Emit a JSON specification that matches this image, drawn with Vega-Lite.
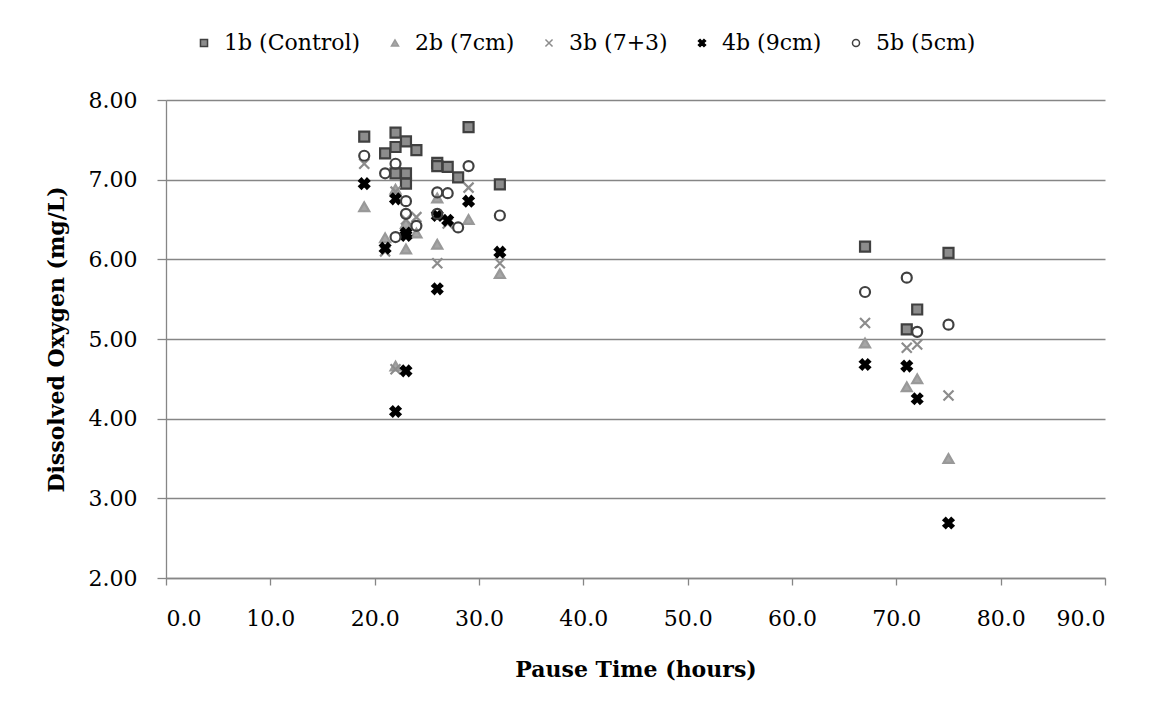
{
  "$schema": "https://vega.github.io/schema/vega-lite/v6.json",
  "width": 939,
  "height": 478,
  "autosize": "none",
  "padding": {"left": 166, "top": 100, "right": 49, "bottom": 135},
  "background": "#ffffff",
  "config": {
    "view": {"stroke": null},
    "font": "DejaVu Serif",
    "axis": {
      "labelFont": "DejaVu Serif",
      "labelFontSize": 22,
      "labelColor": "#000000",
      "titleFont": "DejaVu Serif",
      "titleFontSize": 22,
      "titleFontWeight": "bold",
      "titleColor": "#000000",
      "domainColor": "#868686",
      "tickColor": "#868686",
      "gridColor": "#868686",
      "domainWidth": 1.3,
      "tickWidth": 1.3,
      "gridWidth": 1.3
    },
    "legend": {
      "labelFont": "DejaVu Serif",
      "labelFontSize": 22,
      "labelColor": "#000000"
    }
  },
  "data": {
    "values": [
      {"series": "1b (Control)", "t": 19, "do": 7.54},
      {"series": "1b (Control)", "t": 21, "do": 7.33},
      {"series": "1b (Control)", "t": 22, "do": 7.59},
      {"series": "1b (Control)", "t": 22, "do": 7.41},
      {"series": "1b (Control)", "t": 22, "do": 7.08},
      {"series": "1b (Control)", "t": 23, "do": 7.48},
      {"series": "1b (Control)", "t": 23, "do": 7.08},
      {"series": "1b (Control)", "t": 23, "do": 6.95},
      {"series": "1b (Control)", "t": 24, "do": 7.37},
      {"series": "1b (Control)", "t": 26, "do": 7.21},
      {"series": "1b (Control)", "t": 26, "do": 7.17},
      {"series": "1b (Control)", "t": 27, "do": 7.16},
      {"series": "1b (Control)", "t": 28, "do": 7.03},
      {"series": "1b (Control)", "t": 29, "do": 7.66},
      {"series": "1b (Control)", "t": 32, "do": 6.94},
      {"series": "1b (Control)", "t": 67, "do": 6.16},
      {"series": "1b (Control)", "t": 71, "do": 5.12},
      {"series": "1b (Control)", "t": 72, "do": 5.37},
      {"series": "1b (Control)", "t": 75, "do": 6.08},

      {"series": "2b (7cm)", "t": 19, "do": 6.66},
      {"series": "2b (7cm)", "t": 21, "do": 6.27},
      {"series": "2b (7cm)", "t": 22, "do": 6.88},
      {"series": "2b (7cm)", "t": 22, "do": 4.66},
      {"series": "2b (7cm)", "t": 23, "do": 6.13},
      {"series": "2b (7cm)", "t": 23, "do": 6.45},
      {"series": "2b (7cm)", "t": 24, "do": 6.33},
      {"series": "2b (7cm)", "t": 26, "do": 6.77},
      {"series": "2b (7cm)", "t": 26, "do": 6.19},
      {"series": "2b (7cm)", "t": 29, "do": 6.50},
      {"series": "2b (7cm)", "t": 32, "do": 5.82},
      {"series": "2b (7cm)", "t": 67, "do": 4.95},
      {"series": "2b (7cm)", "t": 71, "do": 4.40},
      {"series": "2b (7cm)", "t": 72, "do": 4.50},
      {"series": "2b (7cm)", "t": 75, "do": 3.50},

      {"series": "3b (7+3)", "t": 19, "do": 7.20},
      {"series": "3b (7+3)", "t": 21, "do": 6.10},
      {"series": "3b (7+3)", "t": 22, "do": 6.85},
      {"series": "3b (7+3)", "t": 22, "do": 4.62},
      {"series": "3b (7+3)", "t": 23, "do": 6.50},
      {"series": "3b (7+3)", "t": 24, "do": 6.53},
      {"series": "3b (7+3)", "t": 26, "do": 5.95},
      {"series": "3b (7+3)", "t": 27, "do": 6.45},
      {"series": "3b (7+3)", "t": 29, "do": 6.90},
      {"series": "3b (7+3)", "t": 32, "do": 5.95},
      {"series": "3b (7+3)", "t": 67, "do": 5.20},
      {"series": "3b (7+3)", "t": 71, "do": 4.89},
      {"series": "3b (7+3)", "t": 72, "do": 4.93},
      {"series": "3b (7+3)", "t": 75, "do": 4.29},

      {"series": "4b (9cm)", "t": 19, "do": 6.95},
      {"series": "4b (9cm)", "t": 21, "do": 6.14},
      {"series": "4b (9cm)", "t": 22, "do": 6.76},
      {"series": "4b (9cm)", "t": 22, "do": 4.09},
      {"series": "4b (9cm)", "t": 23, "do": 6.30},
      {"series": "4b (9cm)", "t": 23, "do": 6.33},
      {"series": "4b (9cm)", "t": 23, "do": 4.60},
      {"series": "4b (9cm)", "t": 26, "do": 6.55},
      {"series": "4b (9cm)", "t": 26, "do": 5.63},
      {"series": "4b (9cm)", "t": 27, "do": 6.49},
      {"series": "4b (9cm)", "t": 29, "do": 6.73},
      {"series": "4b (9cm)", "t": 32, "do": 6.09},
      {"series": "4b (9cm)", "t": 67, "do": 4.68},
      {"series": "4b (9cm)", "t": 71, "do": 4.66},
      {"series": "4b (9cm)", "t": 72, "do": 4.25},
      {"series": "4b (9cm)", "t": 75, "do": 2.69},

      {"series": "5b (5cm)", "t": 19, "do": 7.30},
      {"series": "5b (5cm)", "t": 21, "do": 7.08},
      {"series": "5b (5cm)", "t": 22, "do": 7.20},
      {"series": "5b (5cm)", "t": 22, "do": 6.28},
      {"series": "5b (5cm)", "t": 23, "do": 6.73},
      {"series": "5b (5cm)", "t": 23, "do": 6.57},
      {"series": "5b (5cm)", "t": 24, "do": 6.42},
      {"series": "5b (5cm)", "t": 26, "do": 6.84},
      {"series": "5b (5cm)", "t": 26, "do": 6.57},
      {"series": "5b (5cm)", "t": 27, "do": 6.83},
      {"series": "5b (5cm)", "t": 28, "do": 6.40},
      {"series": "5b (5cm)", "t": 29, "do": 7.17},
      {"series": "5b (5cm)", "t": 32, "do": 6.55},
      {"series": "5b (5cm)", "t": 67, "do": 5.59},
      {"series": "5b (5cm)", "t": 71, "do": 5.77},
      {"series": "5b (5cm)", "t": 72, "do": 5.09},
      {"series": "5b (5cm)", "t": 75, "do": 5.18}
    ]
  },
  "mark": {"type": "point", "filled": false, "size": 100, "strokeWidth": 2.2, "opacity": 1},
  "encoding": {
    "x": {
      "field": "t",
      "type": "quantitative",
      "title": "Pause Time (hours)",
      "scale": {"domain": [0, 90], "nice": false, "zero": false},
      "axis": {
        "values": [0, 10, 20, 30, 40, 50, 60, 70, 80, 90],
        "format": ".1f",
        "grid": false,
        "tickSize": 7,
        "labelPadding": 23,
        "titlePadding": 30
      }
    },
    "y": {
      "field": "do",
      "type": "quantitative",
      "title": "Dissolved Oxygen (mg/L)",
      "scale": {"domain": [2, 8], "nice": false, "zero": false},
      "axis": {
        "values": [2, 3, 4, 5, 6, 7, 8],
        "format": ".2f",
        "grid": true,
        "tickSize": 9,
        "labelPadding": 20,
        "titlePadding": 20
      }
    },
    "shape": {
      "field": "series",
      "type": "nominal",
      "title": null,
      "scale": {
        "domain": ["1b (Control)", "2b (7cm)", "3b (7+3)", "4b (9cm)", "5b (5cm)"],
        "range": [
          "square",
          "triangle-up",
          "M-1,-1L1,1M-1,1L1,-1",
          "M-1,-0.55L-0.55,-1L0,-0.4L0.55,-1L1,-0.55L0.4,0L1,0.55L0.55,1L0,0.4L-0.55,1L-1,0.55L-0.4,0Z",
          "circle"
        ]
      },
      "legend": {
        "orient": "none",
        "direction": "horizontal",
        "legendX": 27,
        "legendY": -68,
        "symbolSize": 50,
        "labelOffset": 9,
        "columnPadding": 23
      }
    },
    "fill": {
      "field": "series",
      "type": "nominal",
      "title": null,
      "scale": {
        "domain": ["1b (Control)", "2b (7cm)", "3b (7+3)", "4b (9cm)", "5b (5cm)"],
        "range": ["#8c8c8c", "#a6a6a6", "transparent", "#000000", "transparent"]
      }
    },
    "stroke": {
      "field": "series",
      "type": "nominal",
      "title": null,
      "scale": {
        "domain": ["1b (Control)", "2b (7cm)", "3b (7+3)", "4b (9cm)", "5b (5cm)"],
        "range": ["#404040", "#999999", "#8c8c8c", "#000000", "#404040"]
      }
    }
  }
}
